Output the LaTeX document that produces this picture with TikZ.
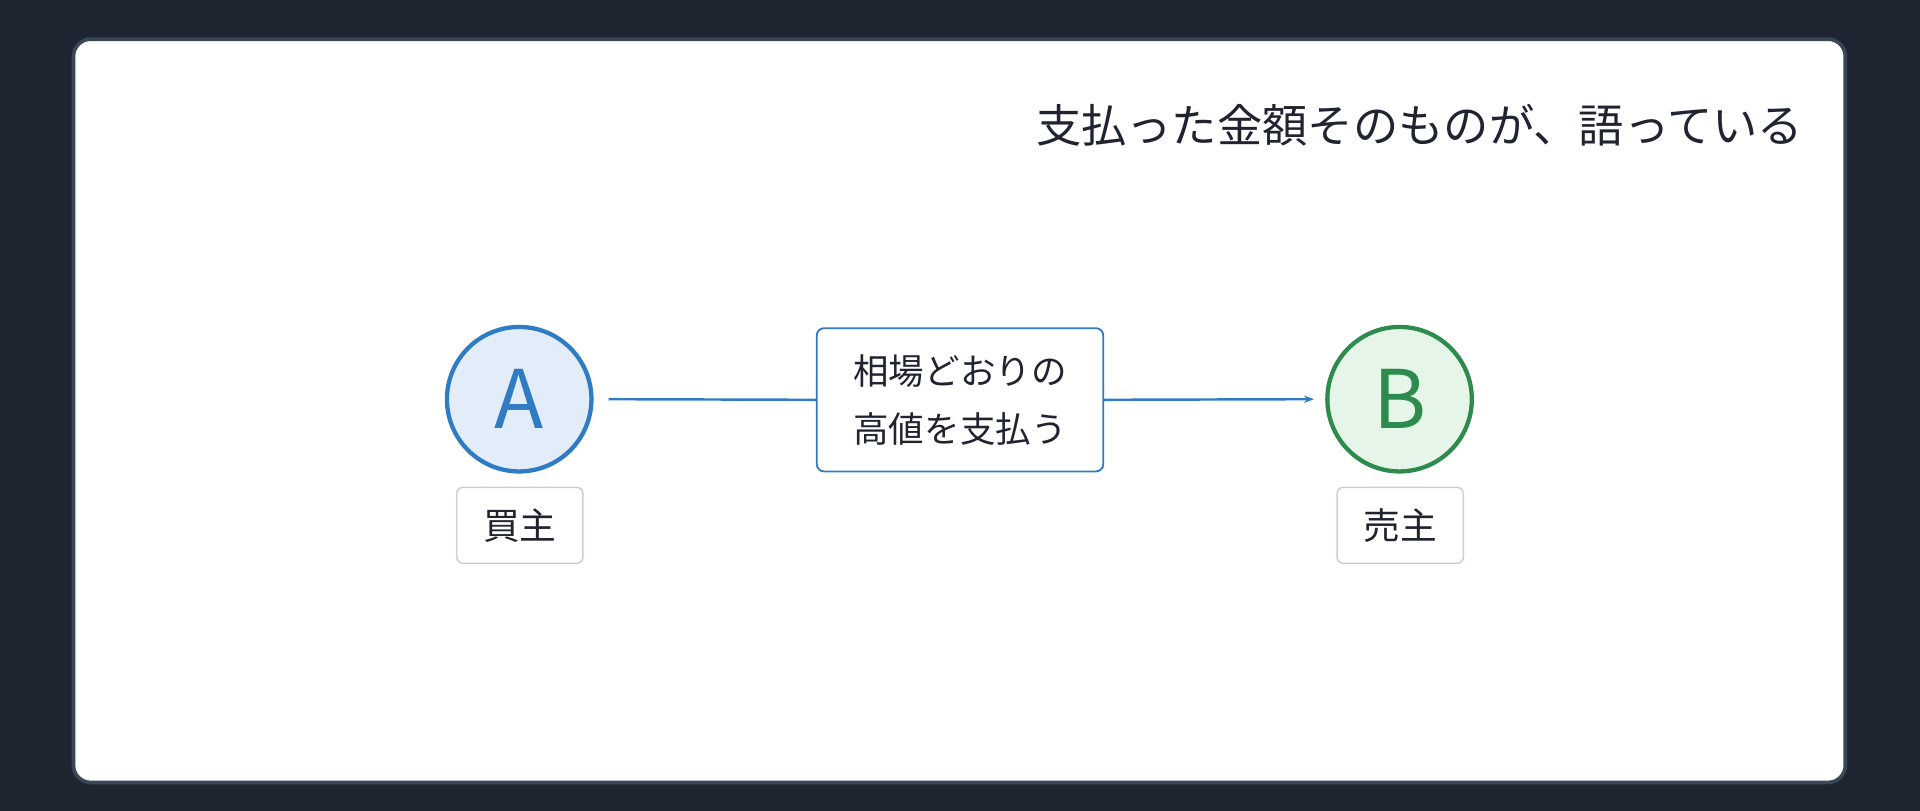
\documentclass[tikz,border=0pt]{standalone}
\usepackage{fontspec}
\setmainfont{Noto Sans CJK JP}
\newfontfamily\cjkb{Noto Sans CJK JP}[BoldFont={* Bold}]
\usetikzlibrary{arrows.meta}
\definecolor{bgdark}{HTML}{1E2530}
\definecolor{cardedge}{HTML}{3A4555}
\definecolor{ink}{HTML}{1F2430}
\definecolor{bluel}{HTML}{2F7BC4}
\definecolor{bluef}{HTML}{E3EDF9}
\definecolor{greenl}{HTML}{2E8B4E}
\definecolor{greenf}{HTML}{E5F5E8}
\definecolor{tagedge}{HTML}{C9CFD8}
\begin{document}
\begin{tikzpicture}[x=1pt,y=-1pt,
  actor/.style={circle,line width=3.5pt,minimum size=118pt,inner sep=0pt,font=\fontsize{66}{70}\selectfont},
  tag/.style={draw=tagedge,line width=1.2pt,rounded corners=5pt,fill=white,minimum width=103pt,minimum height=62pt,text=ink,font=\fontsize{30}{34}\selectfont},
  msg/.style={draw=bluel,line width=1.5pt,rounded corners=6pt,fill=white,minimum width=234pt,minimum height=117pt,align=center,text=ink,font=\fontsize{29}{47}\selectfont},
  flow/.style={draw=bluel,line width=2pt,-{Stealth[length=8pt,width=6pt]}}]
\useasboundingbox (0,0) rectangle (1568,662);
\fill[bgdark] (0,0) rectangle (1568,662);
\draw[cardedge,line width=3pt,fill=white,rounded corners=14pt] (60,32) rectangle (1507,639);
\node[anchor=east,text=ink,font=\fontsize{37}{40}\selectfont] (title) at (1476,102) {支払った金額そのものが、語っている};
\node[actor,draw=bluel,fill=bluef,text=bluel] (A) at (424,326) {A};
\node[actor,draw=greenl,fill=greenf,text=greenl] (B) at (1143,326) {B};
\node[tag] (ta) at (424.5,429) {買主};
\node[tag] (tb) at (1143.5,429) {売主};
\node[msg] (m) at (784,326.5) {相場どおりの\\高値を支払う};
\coordinate (s) at (497,326);
\coordinate (e) at (1073,326);
\draw[bluel,line width=2pt] (s) -- (m.west);
\draw[flow] (m.east) -- (e);
\end{tikzpicture}
\end{document}
